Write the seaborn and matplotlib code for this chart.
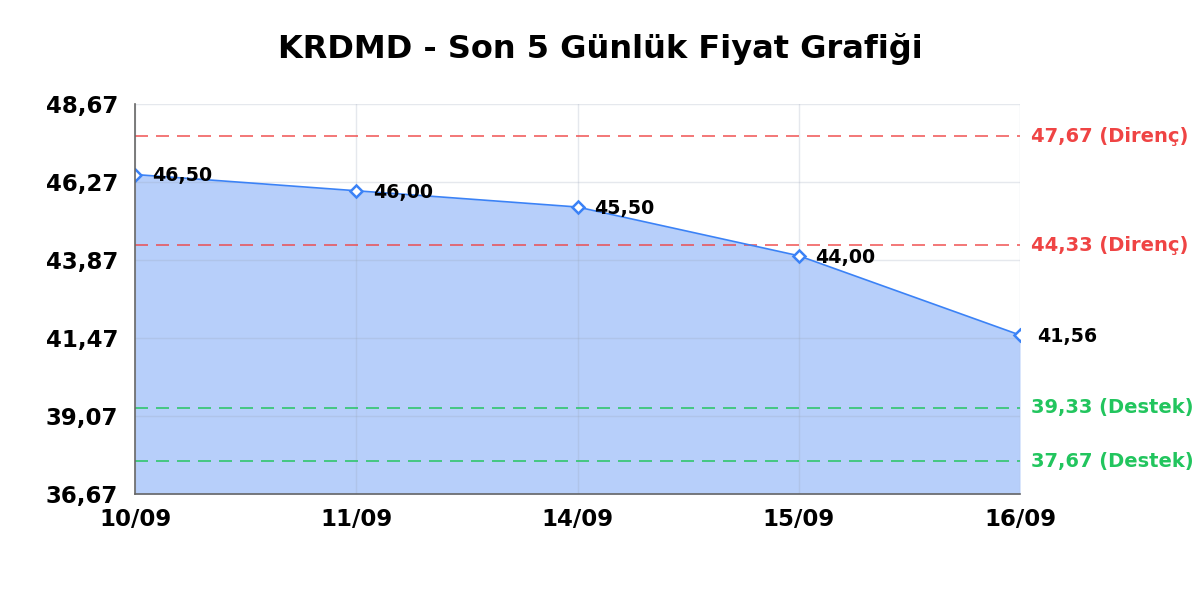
import numpy as np
import pandas as pd
import matplotlib
matplotlib.use('Agg')
import matplotlib.pyplot as plt
import seaborn as sns

# Data
dates = ['10/09', '11/09', '14/09', '15/09', '16/09']
prices = [46.50, 46.00, 45.50, 44.00, 41.56]
resistance = [47.67, 44.33]
support = [39.33, 37.67]
y_ticks = [36.67, 39.07, 41.47, 43.87, 46.27, 48.67]

df = pd.DataFrame({'date': dates, 'price': prices})
df['pos'] = range(len(df))

sns.set_theme(style='white')
plt.rcParams['font.family'] = ['DejaVu Sans']

fig = plt.figure(figsize=(12, 6), dpi=100)
ax = fig.add_axes([0.1125, 0.1767, 0.7375, 0.65])

fmt = lambda v: f'{v:.2f}'.replace('.', ',')

# Area + line
ax.fill_between(df['pos'], df['price'], y_ticks[0], color='#b7cffa', zorder=1, linewidth=0)
sns.lineplot(data=df, x='pos', y='price', ax=ax, color='#3b82f6', linewidth=1.2,
             marker='D', markersize=6.5, markerfacecolor='white', markeredgecolor='#3b82f6',
             markeredgewidth=1.8, zorder=4)

# grid above fill
for v in y_ticks:
    ax.axhline(v, color='#9aa6b8', alpha=0.25, linewidth=1, zorder=2)
for p in df['pos']:
    ax.axvline(p, color='#9aa6b8', alpha=0.25, linewidth=1, zorder=2)

dash = (0, (7.8, 4.8))
for r in resistance:
    ax.axhline(r, color='#ef4444', linestyle=dash, linewidth=1.2, alpha=0.85, zorder=3)
    ax.annotate(f'{fmt(r)} (Direnç)', xy=(1, r), xycoords=('axes fraction', 'data'),
                xytext=(8, 0), textcoords='offset points', va='center', ha='left',
                color='#ef4444', fontsize=14, fontweight='bold', annotation_clip=False)
for s in support:
    ax.axhline(s, color='#22c55e', linestyle=dash, linewidth=1.2, alpha=0.9, zorder=3)
    ax.annotate(f'{fmt(s)} (Destek)', xy=(1, s), xycoords=('axes fraction', 'data'),
                xytext=(8, 0), textcoords='offset points', va='center', ha='left',
                color='#22c55e', fontsize=14, fontweight='bold', annotation_clip=False)

for p, v in zip(df['pos'], df['price']):
    ax.annotate(fmt(v), xy=(p, v), xytext=(12, -1), textcoords='offset points',
                va='center', ha='left', fontsize=13.7, fontweight='bold', color='#000000',
                zorder=5, annotation_clip=False)

ax.set_xlim(0, len(dates) - 1)
ax.set_ylim(y_ticks[0], y_ticks[-1])
ax.set_xticks(df['pos'])
ax.set_xticklabels(dates, fontsize=16.5, fontweight='bold')
ax.set_yticks(y_ticks)
ax.set_yticklabels([fmt(v) for v in y_ticks], fontsize=16.5, fontweight='bold')
ax.tick_params(axis='y', length=0, pad=12, colors='#000000')
ax.tick_params(axis='x', length=0, pad=10, colors='#000000')
ax.set_xlabel('')
ax.set_ylabel('')

for side in ['top', 'right']:
    ax.spines[side].set_visible(False)
for side in ['left', 'bottom']:
    ax.spines[side].set_color('#666666')
    ax.spines[side].set_linewidth(1.2)
    ax.spines[side].set_zorder(6)

fig.suptitle('KRDMD - Son 5 Günlük Fiyat Grafiği', fontsize=23, fontweight='bold',
             y=0.945, x=0.5, color='#000000')

fig.savefig('out.png', dpi=100)
